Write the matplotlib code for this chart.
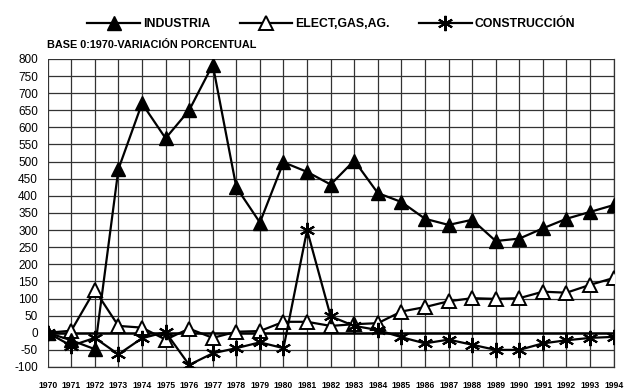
import numpy as np
import matplotlib
matplotlib.use('Agg')
from matplotlib import pyplot as plt

plt.rcParams['font.family'] = ['Liberation Sans', 'DejaVu Sans']

# ==== DATA ====
years = list(range(1970, 1995))

industria = [0, -22, -48, 478, 670, 568, 650, 783, 425, 322, 498, 470,
             433, 503, 408, 382, 333, 315, 330, 268, 275, 305, 333, 353, 373]

elect = [0, 6, 125, 20, 15, -20, 12, -15, 3, 5, 32, 32,
         20, 25, 28, 62, 75, 92, 101, 99, 101, 120, 117, 140, 160]

construccion = [0, -38, -15, -63, -16, 2, -94, -60, -45, -28, -45, 300,
                48, 20, 8, -13, -31, -20, -35, -50, -50, -31, -22, -15, -12]

labels = ['INDUSTRIA', 'ELECT,GAS,AG.', 'CONSTRUCCIÓN']
subtitle = 'BASE 0:1970-VARIACIÓN PORCENTUAL'
yticks = list(range(-100, 801, 50))

# ==== PLOT ====
fig = plt.figure(figsize=(6.24, 3.90), dpi=100)
ax = fig.add_axes([0.0764, 0.059, 0.907, 0.790])

ax.plot(years, industria, color='black', lw=1.6, marker='^', ms=10,
        mfc='black', mec='black', label=labels[0], zorder=4)
ax.plot(years, elect, color='black', lw=1.6, marker='^', ms=10,
        mfc='white', mec='black', mew=1.4, label=labels[1], zorder=3)
ax.plot(years, construccion, color='black', lw=1.6, marker=(6, 2, 0), ms=11,
        mew=1.5, label=labels[2], zorder=3)

ax.axhline(0, color='black', lw=1.8, zorder=2)

ax.set_xlim(1970, 1994)
ax.set_ylim(-100, 800)
ax.set_xticks(years)
ax.set_xticklabels([str(y) for y in years], fontsize=6.2, fontweight='bold')
ax.set_yticks(yticks)
ax.set_yticklabels([str(v) for v in yticks], fontsize=8.5)
ax.tick_params(axis='x', length=0, pad=10)
ax.tick_params(axis='y', length=0, pad=7)
ax.grid(True, color='#333333', lw=0.9)
ax.set_axisbelow(True)
for side in ['top', 'left']:
    ax.spines[side].set_visible(False)
for side in ['right', 'bottom']:
    ax.spines[side].set_color('#333333')
    ax.spines[side].set_linewidth(0.9)

fig.text(0.076, 0.885, subtitle, fontsize=7.8, fontweight='bold', ha='left', va='center')

fig.legend(loc='center', bbox_to_anchor=(0.531, 0.938), ncol=3, frameon=False,
           prop={'size': 8.8, 'weight': 'bold'}, handlelength=4.3,
           handletextpad=0.25, columnspacing=2.4, markerscale=1.0)

fig.savefig('out.png', dpi=100)
